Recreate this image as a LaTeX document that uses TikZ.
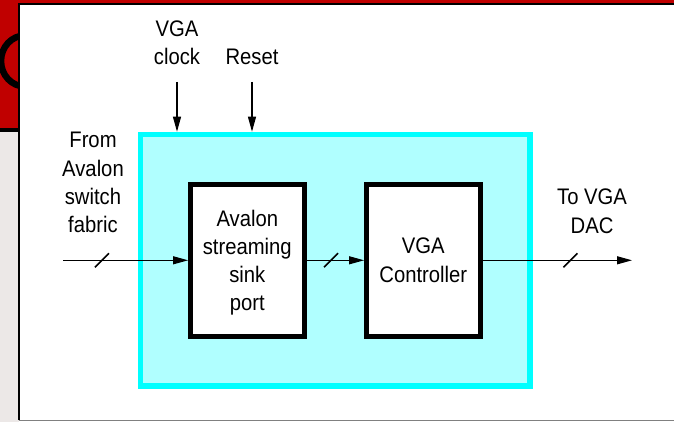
\documentclass[tikz,border=0pt]{standalone}
\usepackage{fontspec}
\setmainfont{Liberation Sans}[FakeStretch=0.9]
\usetikzlibrary{positioning,arrows.meta,decorations.markings}
\definecolor{slidered}{HTML}{C00000}
\definecolor{slidegrey}{HTML}{ECE8E7}
\definecolor{framecyan}{HTML}{00FFFF}
\definecolor{fillcyan}{HTML}{B0FFFF}

\begin{document}
\begin{tikzpicture}[x=1pt, y=-1pt,
  lbl/.style={align=center, inner sep=0pt, font=\fontsize{22.5}{28.3}\selectfont},
  block/.style={draw, line width=4.5pt, fill=white, minimum width=114pt, minimum height=152pt,
    align=center, inner sep=0pt, font=\fontsize{22.5}{28.3}\selectfont},
  sig/.style={line width=1.1pt, -{Triangle[length=15pt,width=8pt]}},
  bus/.style={postaction={decorate}, decoration={markings,
    mark=at position #1 with {\draw[-, line width=1.6pt] (-7pt,-7pt) -- (7pt,7pt);}}}
]
\useasboundingbox (0,0) rectangle (674,422);

% slide behind the panel
\fill[slidered] (0,0) rectangle (674,130);
\fill[slidegrey] (0,130) rectangle (19,422);
\draw[line width=3.5pt] (0,130) -- (19,130);
\draw[line width=6.5pt] (25,61) ellipse [x radius=24pt, y radius=25.5pt];

% white panel
\fill[white] (19,4.5) rectangle (674,420);
\draw[line width=1.6pt] (19.2,420) -- (19.2,4.3) -- (674,4.3);
\draw[line width=1.2pt, gray] (19,420.6) -- (674,420.6);

% nodes (manual positions for clearer layout)
\node[draw=framecyan, fill=fillcyan, line width=5.5pt, minimum width=389.5pt,
  minimum height=251.7pt, inner sep=0pt] (frame) at (335.2,260.3) {};
\node[block] (sink) at (247.3,260.3) {Avalon\\streaming\\sink\\\raisebox{0pt}[\height][0pt]{port}};
\node[block, right=57.5pt of sink] (vgactl) {VGA\\Controller};

\coordinate (src) at (63,260.3);
\coordinate (dac) at (632,260.3);
\coordinate (clkin) at (177,82);
\coordinate (rstin) at (252,82);

\node[lbl, above=17pt of clkin] (clklbl) {VGA\\clock};
\node[lbl, above=17pt of rstin] (rstlbl) {Reset};
\node[lbl, anchor=south] (fromlbl) at (93,233.3) {From\\Avalon\\switch\\fabric};
\node[lbl, anchor=south] (tolbl) at (592,233.5) {To VGA\\DAC};

% edges
\draw[sig, bus=39pt] (src) -- (sink.west);
\draw[sig, bus=24.5pt] (sink.east) -- (vgactl.west);
\draw[sig, bus=87.8pt] (vgactl.east) -- (dac);
\draw[sig] (clkin) -- (clkin |- frame.north);
\draw[sig] (rstin) -- (rstin |- frame.north);

\end{tikzpicture}
\end{document}
